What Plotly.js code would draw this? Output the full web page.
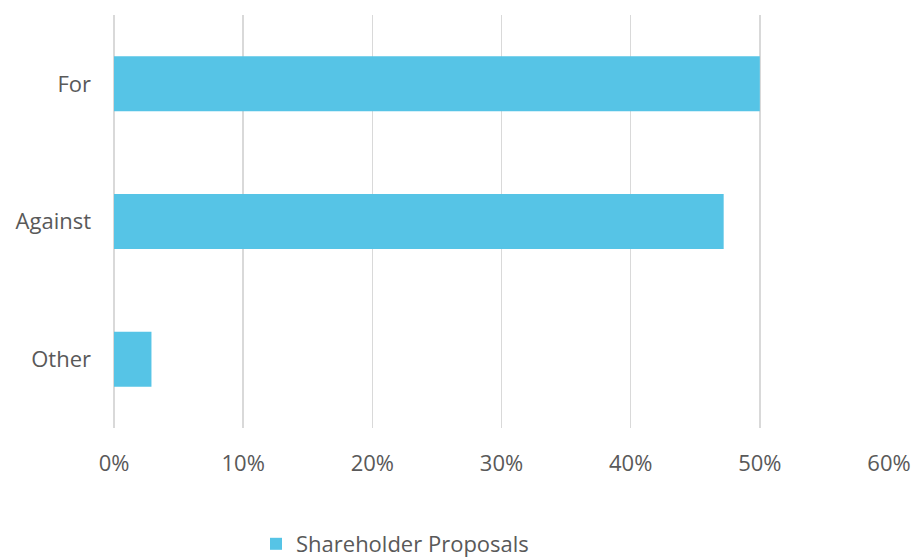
<!DOCTYPE html>
<html>
<head>
<meta charset="utf-8">
<script src="https://cdn.plot.ly/plotly-3.0.1.min.js"></script>
<style>html,body{margin:0;padding:0;background:#fff;}#chart{width:915px;height:557px;}</style>
</head>
<body>
<div id="chart"></div>
<script>
const categories = ["For", "Against", "Other"];
const shareholderProposals = [50.0, 47.2, 2.9];
const seriesName = "Shareholder Proposals";
const xTickValues = [0, 10, 20, 30, 40, 50, 60];
const xTickLabels = ["0%", "10%", "20%", "30%", "40%", "50%", "60%"];

const font = {family: "Open Sans, sans-serif", size: 22, color: "#595959"};

Plotly.newPlot("chart", [{
  type: "bar",
  orientation: "h",
  x: shareholderProposals,
  y: categories,
  name: seriesName,
  marker: {color: "#56C4E6"},
  hoverinfo: "x+y"
}], {
  width: 915, height: 557,
  margin: {l: 114, r: 26, t: 15, b: 129},
  paper_bgcolor: "#fff", plot_bgcolor: "#fff",
  font: font,
  bargap: 0.6,
  showlegend: true,
  xaxis: {
    range: [0, 60],
    tickvals: xTickValues,
    ticktext: xTickLabels,
    showgrid: true, gridcolor: "#d9d9d9", gridwidth: 1.5,
    zeroline: true, zerolinecolor: "#d9d9d9", zerolinewidth: 1.5,
    showline: false, ticks: "",
    ticklabelstandoff: 20,
    tickfont: font,
    fixedrange: true
  },
  yaxis: {
    autorange: "reversed",
    showgrid: false, zeroline: false, showline: false, ticks: "",
    ticklabelstandoff: 22,
    tickfont: font,
    fixedrange: true
  },
  legend: {
    orientation: "h",
    xref: "container", yref: "container",
    x: 395/915, xanchor: "center",
    y: 1 - 544/557, yanchor: "middle",
    font: font,
    bgcolor: "rgba(0,0,0,0)"
  }
}, {displayModeBar: false, staticPlot: true});
</script>
</body>
</html>
